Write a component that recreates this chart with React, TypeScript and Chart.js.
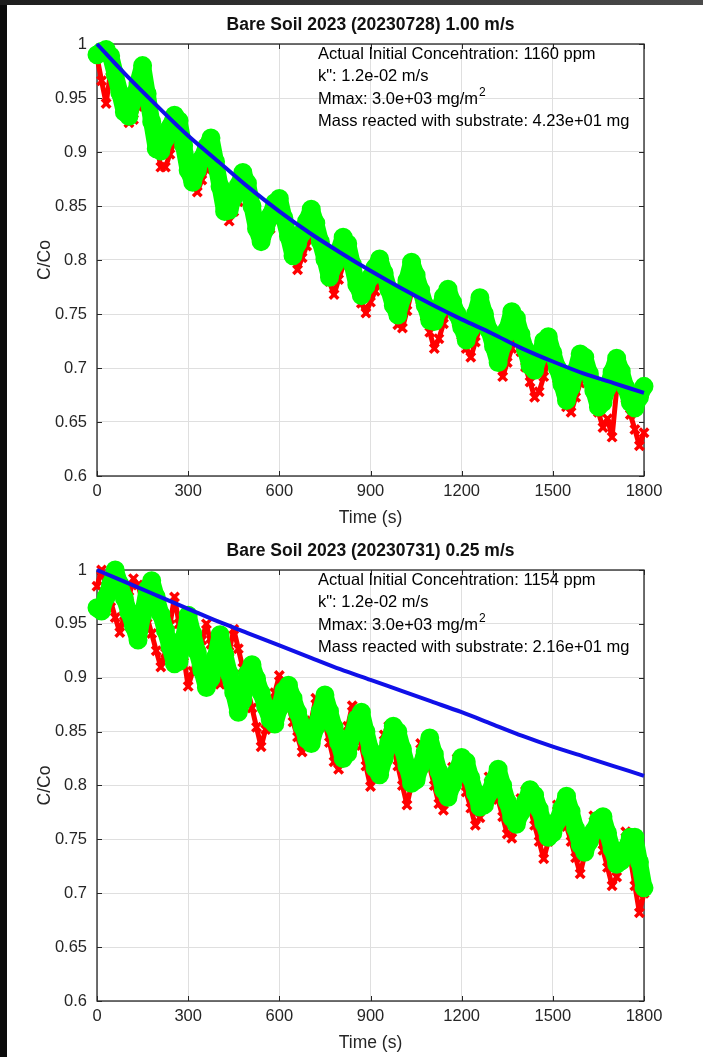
import React, { useEffect, useRef } from 'react';
import { Chart, registerables } from 'chart.js';

Chart.register(...registerables);

// ---------- data ----------
const TIME_S = [
  0, 15, 30, 45, 60, 75, 90, 105, 120, 135,
  150, 165, 180, 195, 210, 225, 240, 255, 270, 285,
  300, 315, 330, 345, 360, 375, 390, 405, 420, 435,
  450, 465, 480, 495, 510, 525, 540, 555, 570, 585,
  600, 615, 630, 645, 660, 675, 690, 705, 720, 735,
  750, 765, 780, 795, 810, 825, 840, 855, 870, 885,
  900, 915, 930, 945, 960, 975, 990, 1005, 1020, 1035,
  1050, 1065, 1080, 1095, 1110, 1125, 1140, 1155, 1170, 1185,
  1200, 1215, 1230, 1245, 1260, 1275, 1290, 1305, 1320, 1335,
  1350, 1365, 1380, 1395, 1410, 1425, 1440, 1455, 1470, 1485,
  1500, 1515, 1530, 1545, 1560, 1575, 1590, 1605, 1620, 1635,
  1650, 1665, 1680, 1695, 1710, 1725, 1740, 1755, 1770, 1785,
  1800,
];

// Top panel (20230728, 1.00 m/s)
const GREEN_TOP = [
  0.990, 0.993, 0.995, 0.989, 0.972, 0.955, 0.937, 0.933, 0.949, 0.964,
  0.980, 0.954, 0.928, 0.903, 0.901, 0.912, 0.923, 0.934, 0.929, 0.906,
  0.883, 0.872, 0.883, 0.894, 0.905, 0.913, 0.891, 0.868, 0.845, 0.846,
  0.858, 0.869, 0.881, 0.871, 0.850, 0.829, 0.817, 0.829, 0.841, 0.853,
  0.857, 0.839, 0.822, 0.804, 0.815, 0.825, 0.836, 0.847, 0.834, 0.817,
  0.801, 0.784, 0.795, 0.808, 0.821, 0.815, 0.796, 0.777, 0.767, 0.776,
  0.784, 0.793, 0.801, 0.788, 0.773, 0.758, 0.749, 0.765, 0.781, 0.798,
  0.786, 0.772, 0.758, 0.744, 0.743, 0.754, 0.766, 0.773, 0.761, 0.750,
  0.738, 0.726, 0.736, 0.750, 0.765, 0.750, 0.735, 0.720, 0.705, 0.721,
  0.736, 0.752, 0.746, 0.731, 0.717, 0.702, 0.698, 0.711, 0.725, 0.729,
  0.714, 0.700, 0.685, 0.670, 0.682, 0.697, 0.713, 0.710, 0.695, 0.679,
  0.664, 0.668, 0.682, 0.696, 0.709, 0.697, 0.682, 0.668, 0.663, 0.673,
  0.683,
];
const RED_TOP = [
  0.988, 0.966, 0.945, 0.975, 0.975, 0.959, 0.943, 0.927, 0.930, 0.942,
  0.954, 0.954, 0.931, 0.909, 0.886, 0.886, 0.898, 0.910, 0.923, 0.911,
  0.891, 0.873, 0.863, 0.874, 0.884, 0.894, 0.893, 0.874, 0.855, 0.836,
  0.845, 0.854, 0.863, 0.872, 0.857, 0.841, 0.826, 0.822, 0.829, 0.837,
  0.845, 0.836, 0.821, 0.805, 0.791, 0.802, 0.813, 0.823, 0.829, 0.813,
  0.796, 0.780, 0.768, 0.782, 0.795, 0.809, 0.797, 0.777, 0.760, 0.751,
  0.761, 0.771, 0.781, 0.784, 0.769, 0.755, 0.740, 0.737, 0.753, 0.770,
  0.778, 0.763, 0.748, 0.733, 0.718, 0.727, 0.741, 0.754, 0.754, 0.742,
  0.730, 0.718, 0.710, 0.724, 0.738, 0.744, 0.731, 0.718, 0.705, 0.692,
  0.705, 0.718, 0.729, 0.715, 0.701, 0.687, 0.673, 0.678, 0.692, 0.707,
  0.703, 0.690, 0.677, 0.664, 0.659, 0.673, 0.686, 0.699, 0.687, 0.673,
  0.659, 0.645, 0.653, 0.636, 0.680, 0.686, 0.672, 0.657, 0.643, 0.628,
  0.640,
];

// Bottom panel (20230731, 0.25 m/s)
const GREEN_BOTTOM = [
  0.965, 0.962, 0.975, 0.987, 1.000, 0.987, 0.974, 0.961, 0.948, 0.935,
  0.958, 0.982, 0.990, 0.975, 0.959, 0.944, 0.929, 0.913, 0.915, 0.937,
  0.958, 0.941, 0.924, 0.907, 0.891, 0.899, 0.919, 0.940, 0.922, 0.904,
  0.886, 0.868, 0.879, 0.904, 0.912, 0.899, 0.886, 0.873, 0.861, 0.857,
  0.872, 0.888, 0.893, 0.881, 0.868, 0.855, 0.843, 0.839, 0.854, 0.869,
  0.884, 0.869, 0.854, 0.840, 0.825, 0.830, 0.847, 0.862, 0.868, 0.850,
  0.833, 0.816, 0.810, 0.825, 0.840, 0.855, 0.850, 0.834, 0.818, 0.802,
  0.805, 0.818, 0.831, 0.844, 0.829, 0.813, 0.796, 0.789, 0.801, 0.814,
  0.826, 0.822, 0.807, 0.793, 0.780, 0.782, 0.793, 0.804, 0.815, 0.800,
  0.785, 0.770, 0.764, 0.775, 0.785, 0.796, 0.791, 0.778, 0.765, 0.752,
  0.756, 0.767, 0.779, 0.790, 0.776, 0.760, 0.745, 0.738, 0.748, 0.758,
  0.768, 0.771, 0.756, 0.741, 0.727, 0.730, 0.741, 0.752, 0.752, 0.729,
  0.705,
];
const RED_BOTTOM = [
  0.985, 1.000, 0.985, 0.971, 0.956, 0.942, 0.958, 0.975, 0.992, 0.986,
  0.971, 0.956, 0.941, 0.925, 0.910, 0.923, 0.949, 0.975, 0.950, 0.920,
  0.892, 0.906, 0.921, 0.935, 0.950, 0.931, 0.913, 0.894, 0.902, 0.924,
  0.945, 0.927, 0.909, 0.890, 0.872, 0.854, 0.836, 0.852, 0.869, 0.886,
  0.902, 0.888, 0.874, 0.859, 0.845, 0.831, 0.840, 0.860, 0.881, 0.878,
  0.858, 0.840, 0.822, 0.815, 0.836, 0.855, 0.874, 0.858, 0.837, 0.818,
  0.799, 0.811, 0.826, 0.847, 0.855, 0.836, 0.818, 0.800, 0.782, 0.801,
  0.820, 0.839, 0.834, 0.817, 0.800, 0.783, 0.777, 0.798, 0.817, 0.825,
  0.809, 0.794, 0.779, 0.763, 0.770, 0.789, 0.808, 0.802, 0.787, 0.771,
  0.755, 0.751, 0.769, 0.788, 0.795, 0.779, 0.763, 0.748, 0.732, 0.748,
  0.765, 0.782, 0.777, 0.762, 0.748, 0.733, 0.718, 0.736, 0.754, 0.772,
  0.755, 0.740, 0.724, 0.707, 0.715, 0.736, 0.757, 0.733, 0.707, 0.682,
  0.700,
];

// Fitted model curves
const FIT_TIME_S = [0, 100, 200, 300, 400, 500, 600, 700, 800, 900, 1000, 1100, 1200, 1300, 1400, 1500, 1600, 1700, 1800];
const FIT_TOP = [1.000, 0.970, 0.942, 0.915, 0.891, 0.867, 0.845, 0.825, 0.807, 0.790, 0.774, 0.759, 0.745, 0.732, 0.718, 0.706, 0.695, 0.686, 0.677];
const FIT_BOTTOM = [1.000, 0.988, 0.976, 0.964, 0.952, 0.941, 0.930, 0.919, 0.908, 0.898, 0.888, 0.878, 0.868, 0.857, 0.846, 0.836, 0.827, 0.818, 0.809];

const X_TICKS = [0, 300, 600, 900, 1200, 1500, 1800];
const X_LABELS = ['0', '300', '600', '900', '1200', '1500', '1800'];
const Y_TICKS = [0.6, 0.65, 0.7, 0.75, 0.8, 0.85, 0.9, 0.95, 1];
const Y_LABELS = ['0.6', '0.65', '0.7', '0.75', '0.8', '0.85', '0.9', '0.95', '1'];

const TITLE_TOP = 'Bare Soil 2023 (20230728) 1.00 m/s';
const TITLE_BOTTOM = 'Bare Soil 2023 (20230731) 0.25 m/s';
const NOTES_TOP = [
  { text: 'Actual Initial Concentration: 1160 ppm', sup: '' },
  { text: 'k": 1.2e-02 m/s', sup: '' },
  { text: 'Mmax: 3.0e+03 mg/m', sup: '2' },
  { text: 'Mass reacted with substrate: 4.23e+01 mg', sup: '' },
];
const NOTES_BOTTOM = [
  { text: 'Actual Initial Concentration: 1154 ppm', sup: '' },
  { text: 'k": 1.2e-02 m/s', sup: '' },
  { text: 'Mmax: 3.0e+03 mg/m', sup: '2' },
  { text: 'Mass reacted with substrate: 2.16e+01 mg', sup: '' },
];
const X_TITLE = 'Time (s)';
const Y_TITLE = 'C/Co';

// ---------- styling ----------
const FONT = '"Liberation Sans", Arial, Helvetica, sans-serif';
const AXIS_COLOR = '#262626';
const GRID_COLOR = '#dfdfdf';
const RED = '#ff0000';
const GREEN = '#00ff00';
const BLUE = '#1010e8';

function makeFramePlugin(title: string, notes: { text: string; sup: string }[]) {
  return {
    id: 'matlabFrame',
    beforeDatasetsDraw(chart: any) {
      const { ctx, chartArea: a, scales } = chart;
      ctx.save();
      ctx.strokeStyle = AXIS_COLOR;
      ctx.lineWidth = 1.3;
      ctx.strokeRect(a.left, a.top, a.right - a.left, a.bottom - a.top);
      const tl = 5;
      ctx.lineWidth = 1;
      ctx.beginPath();
      X_TICKS.forEach((v) => {
        const x = Math.round(scales.x.getPixelForValue(v)) + 0.5;
        ctx.moveTo(x, a.bottom);
        ctx.lineTo(x, a.bottom - tl);
        ctx.moveTo(x, a.top);
        ctx.lineTo(x, a.top + tl);
      });
      Y_TICKS.forEach((v) => {
        const y = Math.round(scales.y.getPixelForValue(v)) + 0.5;
        ctx.moveTo(a.left, y);
        ctx.lineTo(a.left + tl, y);
        ctx.moveTo(a.right, y);
        ctx.lineTo(a.right - tl, y);
      });
      ctx.stroke();
      ctx.restore();
    },
    afterDatasetsDraw(chart: any) {
      const { ctx, chartArea: a } = chart;
      const cx = (a.left + a.right) / 2;
      ctx.save();
      ctx.fillStyle = '#111111';
      ctx.font = `bold 17.5px ${FONT}`;
      ctx.textAlign = 'center';
      ctx.textBaseline = 'middle';
      ctx.fillText(title, cx, a.top - 19);
      ctx.fillStyle = AXIS_COLOR;
      ctx.font = `17.5px ${FONT}`;
      ctx.fillText(X_TITLE, cx, a.bottom + 42);
      ctx.save();
      ctx.translate(45, (a.top + a.bottom) / 2);
      ctx.rotate(-Math.PI / 2);
      ctx.fillText(Y_TITLE, 0, 0);
      ctx.restore();
      ctx.fillStyle = '#000000';
      ctx.textAlign = 'left';
      const offs = [10, 32, 55, 77];
      notes.forEach((n, i) => {
        const y = a.top + offs[i];
        ctx.font = `16.5px ${FONT}`;
        ctx.fillText(n.text, 318, y);
        if (n.sup) {
          const w = ctx.measureText(n.text).width;
          ctx.font = `12px ${FONT}`;
          ctx.fillText(n.sup, 318 + w + 1, y - 6);
        }
      });
      ctx.restore();
    },
  };
}

function ConcChart(props: {
  top: number;
  height: number;
  plotTop: number;
  plotBottom: number;
  title: string;
  notes: { text: string; sup: string }[];
  red: number[];
  green: number[];
  fit: number[];
}) {
  const ref = useRef<HTMLCanvasElement | null>(null);
  useEffect(() => {
    const canvas = ref.current;
    if (!canvas) return;
    const xAxisHeight = props.height - props.plotBottom;
    const chart = new Chart(canvas, {
      type: 'scatter',
      data: {
        datasets: [
          {
            label: 'fit',
            data: FIT_TIME_S.map((t, i) => ({ x: t, y: props.fit[i] })),
            showLine: true,
            borderColor: BLUE,
            borderWidth: 4,
            pointRadius: 0,
            cubicInterpolationMode: 'monotone',
            order: 0,
            clip: false,
          } as any,
          {
            label: 'green',
            data: TIME_S.map((t, i) => ({ x: t, y: props.green[i] })),
            showLine: true,
            borderColor: GREEN,
            borderWidth: 17,
            borderJoinStyle: 'round',
            borderCapStyle: 'round',
            pointStyle: 'circle',
            pointRadius: 8,
            pointBorderWidth: 3,
            pointBorderColor: GREEN,
            pointBackgroundColor: 'rgba(255,255,255,0)',
            order: 1,
            clip: false,
          } as any,
          {
            label: 'red',
            data: TIME_S.map((t, i) => ({ x: t, y: props.red[i] })),
            showLine: true,
            borderColor: RED,
            borderWidth: 5,
            borderJoinStyle: 'round',
            pointStyle: 'crossRot',
            pointRadius: 6,
            pointBorderWidth: 3.5,
            pointBorderColor: RED,
            pointBackgroundColor: RED,
            order: 2,
            clip: false,
          } as any,
        ],
      },
      options: {
        responsive: false,
        animation: false,
        events: [],
        layout: { padding: { left: 0, right: 703 - 644, top: props.plotTop, bottom: 0 } },
        plugins: {
          legend: { display: false },
          tooltip: { enabled: false },
          title: { display: false },
        },
        scales: {
          x: {
            type: 'linear',
            min: 0,
            max: 1800,
            afterBuildTicks: (s: any) => {
              s.ticks = X_TICKS.map((v) => ({ value: v }));
            },
            afterFit: (s: any) => {
              s.height = xAxisHeight;
            },
            ticks: {
              autoSkip: false,
              maxRotation: 0,
              padding: 6,
              color: AXIS_COLOR,
              font: { family: FONT, size: 16.5 },
              callback: (_v: any, i: number) => X_LABELS[i],
            },
            grid: { color: GRID_COLOR, drawTicks: false, lineWidth: 1 },
            border: { display: false },
          },
          y: {
            type: 'linear',
            min: 0.6,
            max: 1,
            afterBuildTicks: (s: any) => {
              s.ticks = Y_TICKS.map((v) => ({ value: v }));
            },
            afterFit: (s: any) => {
              s.width = 97;
            },
            ticks: {
              autoSkip: false,
              padding: 10,
              color: AXIS_COLOR,
              font: { family: FONT, size: 16.5 },
              callback: (_v: any, i: number) => Y_LABELS[i],
            },
            grid: { color: GRID_COLOR, drawTicks: false, lineWidth: 1 },
            border: { display: false },
          },
        },
      } as any,
      plugins: [makeFramePlugin(props.title, props.notes)],
    });
    return () => chart.destroy();
  }, []);
  return (
    <canvas
      ref={ref}
      width={703}
      height={props.height}
      style={{ position: 'absolute', left: 0, top: props.top, width: 703, height: props.height }}
    />
  );
}

export default function App() {
  useEffect(() => {
    document.body.style.margin = '0';
  }, []);
  return (
    <div
      style={{
        position: 'fixed',
        left: 0,
        top: 0,
        width: 703,
        height: 1057,
        background: '#0b0b0b',
        overflow: 'hidden',
      }}
    >
      <div
        style={{
          position: 'absolute',
          left: 0,
          top: 0,
          width: 703,
          height: 5,
          background: 'linear-gradient(to right, #1e1e1e, #3a3a3a 60%, #4a4a4a)',
        }}
      />
      <div style={{ position: 'absolute', left: 7, top: 5, right: 0, bottom: 0, background: '#ffffff' }} />
      <ConcChart
        top={0}
        height={530}
        plotTop={44}
        plotBottom={476}
        title={TITLE_TOP}
        notes={NOTES_TOP}
        red={RED_TOP}
        green={GREEN_TOP}
        fit={FIT_TOP}
      />
      <ConcChart
        top={530}
        height={527}
        plotTop={40}
        plotBottom={471}
        title={TITLE_BOTTOM}
        notes={NOTES_BOTTOM}
        red={RED_BOTTOM}
        green={GREEN_BOTTOM}
        fit={FIT_BOTTOM}
      />
    </div>
  );
}
